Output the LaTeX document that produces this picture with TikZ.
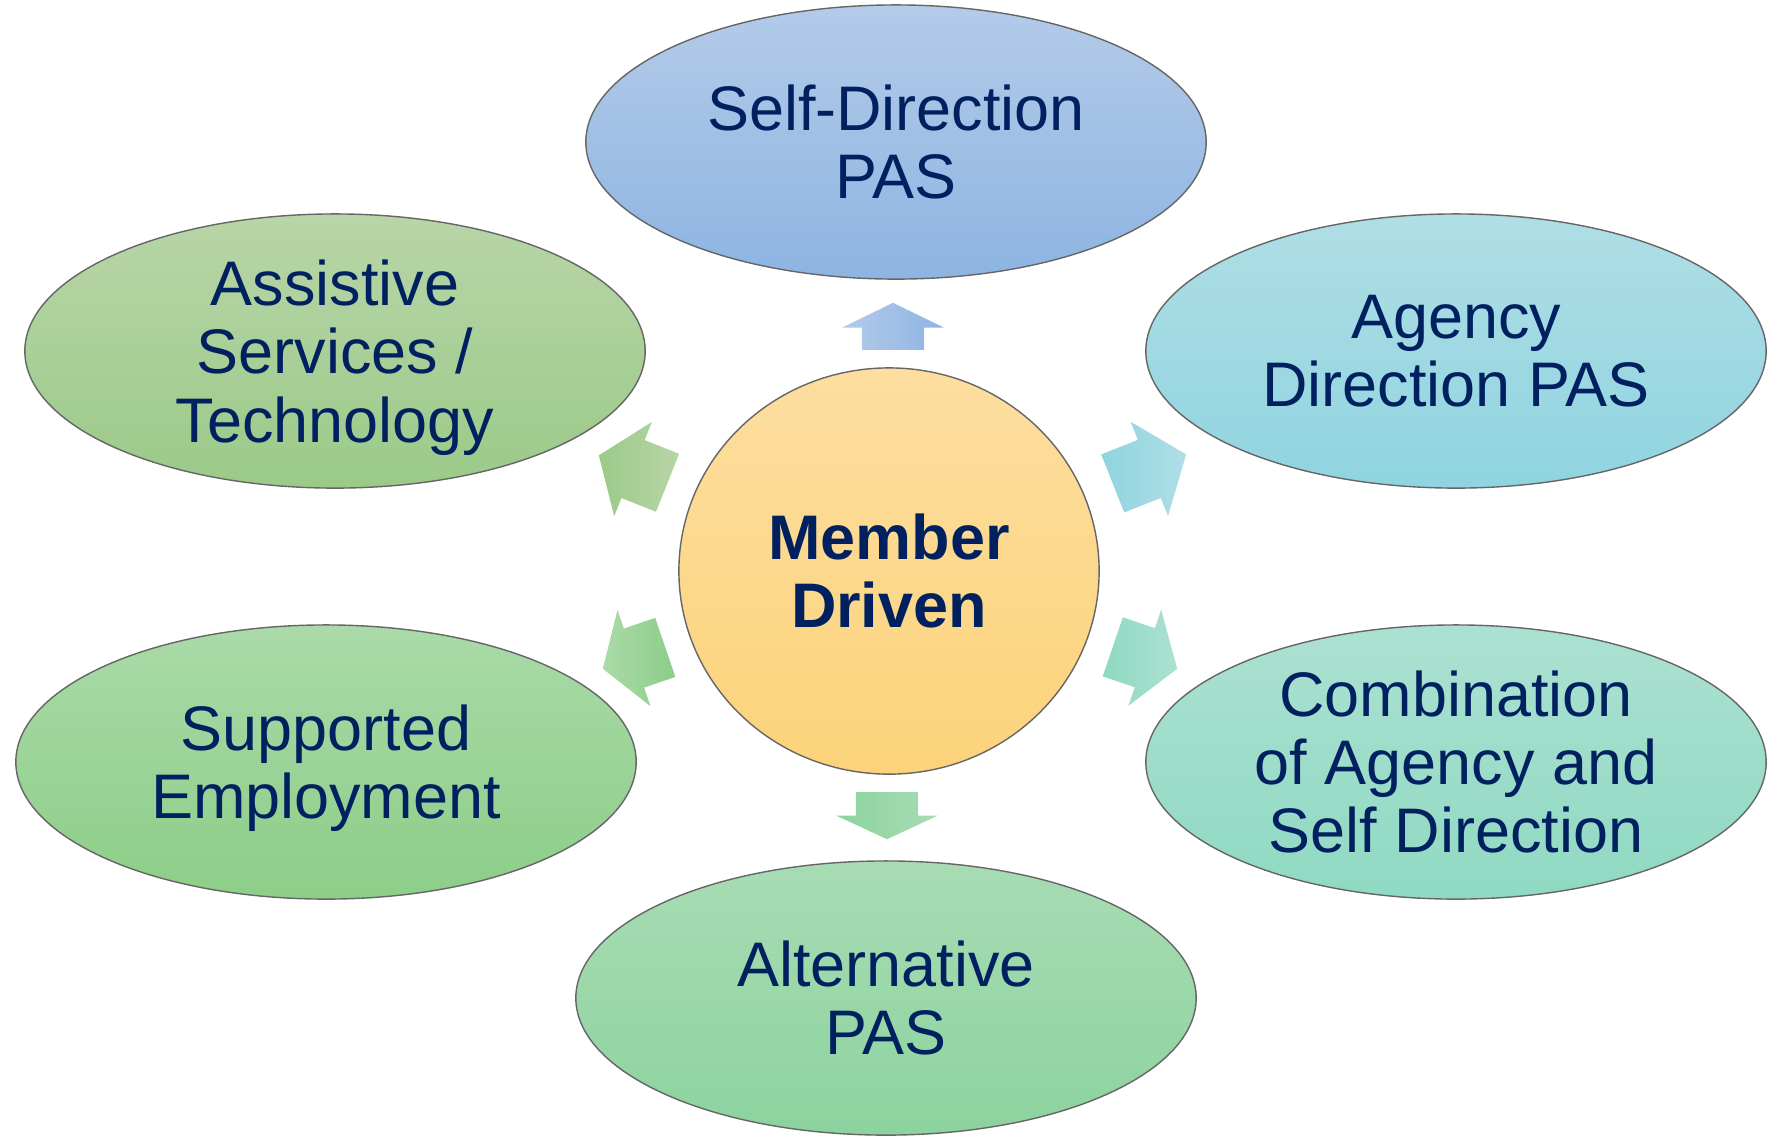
\documentclass[tikz,border=0pt]{standalone}
\usepackage{fontspec}
\setmainfont{Liberation Sans}
\usetikzlibrary{shapes.geometric, shapes.arrows}

\definecolor{navy}{RGB}{0,32,96}
\definecolor{hubtop}{RGB}{253,222,160}
\definecolor{hubbot}{RGB}{252,211,122}
\definecolor{bluetop}{RGB}{180,203,233}
\definecolor{bluebot}{RGB}{141,180,226}
\definecolor{cyantop}{RGB}{176,222,229}
\definecolor{cyanbot}{RGB}{143,212,224}
\definecolor{mintop}{RGB}{172,225,210}
\definecolor{minbot}{RGB}{143,217,194}
\definecolor{greentop}{RGB}{168,220,180}
\definecolor{greenbot}{RGB}{140,211,158}
\definecolor{leaftop}{RGB}{170,218,168}
\definecolor{leafbot}{RGB}{140,206,136}
\definecolor{olivetop}{RGB}{184,213,168}
\definecolor{olivebot}{RGB}{155,202,136}

% last line without its descenders, so the text sits in the middle
\newcommand{\nodepth}[1]{\raisebox{0pt}[\height][0pt]{#1}}

\begin{document}
\begin{tikzpicture}[x=0.01cm, y=-0.01cm,
    main/.style = {draw=black!60, line width=0.4pt, ellipse, inner sep=0pt, minimum width=6.2cm, minimum height=2.74cm, align=center, text=navy, font=\fontsize{17.9}{19.4}\selectfont},
    hub/.style = {main, minimum width=4.2cm, minimum height=4.06cm, top color=hubtop, bottom color=hubbot, font=\fontsize{17.9}{19.4}\selectfont\bfseries},
    spoke/.style = {single arrow, anchor=tip, inner xsep=0pt, inner ysep=0.305cm, minimum width=0pt, single arrow head extend=0.195cm}]
    \useasboundingbox (0,0) rectangle (1767,1135);
    \node[hub] (0) at (889,571) {Member\\Driven};
    \node[main, top color=bluetop, bottom color=bluebot] (1) at (896,142) {Self-Direction\\PAS};
    \node[main, top color=cyantop, bottom color=cyanbot] (2) at (1456,351) {Agency\\Direction PAS};
    \node[main, top color=mintop, bottom color=minbot] (3) at (1456,762) {Combination\\of Agency and\\Self Direction};
    \node[main, top color=greentop, bottom color=greenbot] (4) at (886,998) {Alternative\\PAS};
    \node[main, top color=leaftop, bottom color=leafbot] (5) at (326,762) {Supported\\\nodepth{Employment}};
    \node[main, top color=olivetop, bottom color=olivebot] (6) at (335,351) {Assistive\\Services /\\\nodepth{Technology}};
    % block arrows pointing out of the hub
    \node[spoke, rotate=90, minimum height=0.47cm, single arrow tip angle=128, left color=bluetop, right color=bluebot] (a1) at (893,302) {};
    \node[spoke, rotate=21.6, minimum height=0.79cm, single arrow tip angle=104, left color=cyanbot, right color=cyantop] (a2) at (1187,454) {};
    \node[spoke, rotate=-18.8, minimum height=0.68cm, single arrow tip angle=112, left color=minbot, right color=mintop] (a3) at (1178,669) {};
    \node[spoke, rotate=-90, minimum height=0.47cm, single arrow tip angle=130, left color=greenbot, right color=greentop] (a4) at (887,840) {};
    \node[spoke, rotate=198.9, minimum height=0.66cm, single arrow tip angle=114, left color=leaftop, right color=leafbot] (a5) at (602,669) {};
    \node[spoke, rotate=158.2, minimum height=0.74cm, single arrow tip angle=108, left color=olivebot, right color=olivetop] (a6) at (598,455) {};
\end{tikzpicture}
\end{document}
